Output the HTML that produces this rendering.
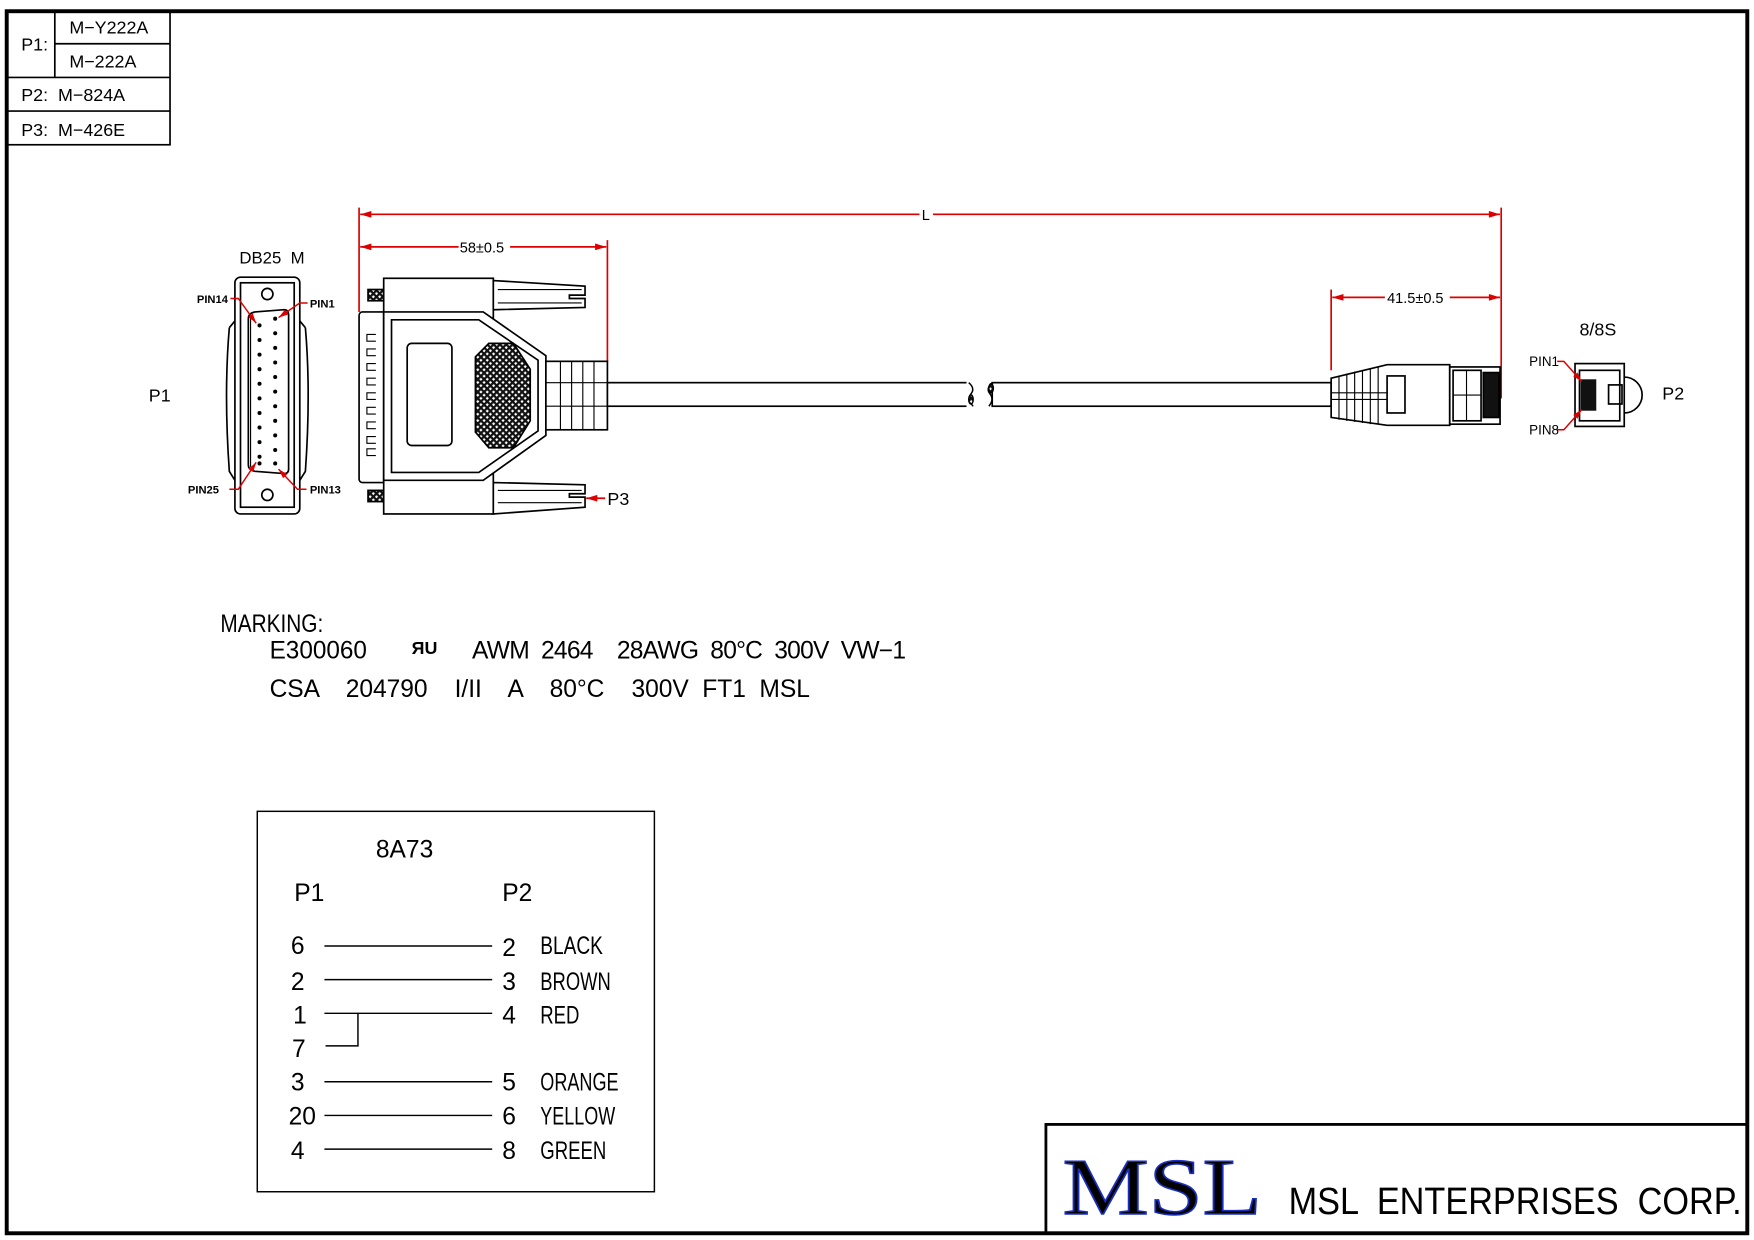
<!DOCTYPE html>
<html><head><meta charset="utf-8"><style>
html,body{margin:0;padding:0;background:#fff;}
svg{display:block;}
text{font-family:"Liberation Sans Narrow","Liberation Sans",sans-serif;fill:#000;white-space:pre;}
</style></head><body>
<svg width="1754" height="1240" viewBox="0 0 1568 1105" preserveAspectRatio="none" xmlns="http://www.w3.org/2000/svg" xml:space="preserve">
<defs>
<pattern id="hx" width="4" height="4" patternUnits="userSpaceOnUse" patternTransform="rotate(45)">
<rect width="4" height="4" fill="#fff"/><rect width="2" height="4" fill="#111"/><rect width="4" height="2" fill="#111"/></pattern>
<marker id="ar" viewBox="0 0 10 6" refX="10" refY="3" markerWidth="7" markerHeight="4" orient="auto-start-reverse"><path d="M0,0L10,3L0,6z" fill="#d00"/></marker>
</defs>
<rect x="6" y="10" width="1556" height="1089" fill="none" stroke="#000" stroke-width="3.5"/>
<g fill="none" stroke="#000" stroke-width="1.5">
<rect x="6" y="10" width="146" height="119"/>
<line x1="6" y1="69" x2="152" y2="69"/><line x1="6" y1="99" x2="152" y2="99"/>
<line x1="49" y1="39" x2="152" y2="39"/><line x1="49" y1="10" x2="49" y2="69"/>
</g>
<g font-size="16">
<text x="19" y="45">P1:</text><text x="62" y="30">M−Y222A</text><text x="62" y="60">M−222A</text>
<text x="19" y="90">P2:  M−824A</text><text x="19" y="121">P3:  M−426E</text>
</g>
<g stroke="#d00" stroke-width="1.5" fill="none">
<line x1="321" y1="185" x2="321" y2="278"/><line x1="1342" y1="185" x2="1342" y2="355"/>
<line x1="543" y1="214" x2="543" y2="322"/><line x1="1190" y1="258" x2="1190" y2="330"/>
<line x1="322" y1="191" x2="822" y2="191" marker-start="url(#ar)"/><line x1="834" y1="191" x2="1341" y2="191" marker-end="url(#ar)"/>
<line x1="322" y1="220" x2="410" y2="220" marker-start="url(#ar)"/><line x1="456" y1="220" x2="542" y2="220" marker-end="url(#ar)"/>
<line x1="1191" y1="265" x2="1238" y2="265" marker-start="url(#ar)"/><line x1="1296" y1="265" x2="1341" y2="265" marker-end="url(#ar)"/>
<line x1="541" y1="444" x2="524" y2="444" marker-end="url(#ar)"/>
</g>
<g font-size="13"><text x="824" y="196">L</text><text x="411" y="225">58±0.5</text><text x="1240" y="270">41.5±0.5</text></g>
<text x="543" y="450" font-size="16">P3</text>
<!-- DB25 face -->
<g fill="none" stroke="#000" stroke-width="1.5">
<rect x="210" y="247" width="58" height="211" rx="5"/>
<rect x="215" y="252" width="48" height="200"/>
<circle cx="239" cy="262" r="5"/><circle cx="239" cy="441" r="5"/>
<path d="M205,292 Q200,350 205,420 L210,428 M273,292 Q278,350 273,420 L268,428"/>
<path d="M205,292 L210,286 M273,292 L268,286"/>
<path d="M228,278 L254,276 Q258,276 258,281 L258,418 Q258,422 254,422 L228,420 Q222,419 222,414 L222,284 Q222,279 228,278Z"/>
<path d="M224,282 L224,416" stroke-width="1"/>
</g>
<g fill="#000">
<circle cx="232" cy="290" r="1.8"/><circle cx="232" cy="303" r="1.8"/><circle cx="232" cy="316" r="1.8"/><circle cx="232" cy="329" r="1.8"/><circle cx="232" cy="342" r="1.8"/><circle cx="232" cy="355" r="1.8"/><circle cx="232" cy="368" r="1.8"/><circle cx="232" cy="381" r="1.8"/><circle cx="232" cy="394" r="1.8"/><circle cx="232" cy="407" r="1.8"/>
<circle cx="246" cy="284" r="1.8"/><circle cx="246" cy="297" r="1.8"/><circle cx="246" cy="310" r="1.8"/><circle cx="246" cy="323" r="1.8"/><circle cx="246" cy="336" r="1.8"/><circle cx="246" cy="349" r="1.8"/><circle cx="246" cy="362" r="1.8"/><circle cx="246" cy="375" r="1.8"/><circle cx="246" cy="388" r="1.8"/><circle cx="246" cy="401" r="1.8"/><circle cx="246" cy="413" r="1.8"/><circle cx="232" cy="413" r="1.8"/>
</g>
<g stroke="#d00" stroke-width="1.3" fill="none">
<path d="M206,266 L213,266 L229,288" marker-end="url(#ar)"/><path d="M275,270 L268,270 L249,283" marker-end="url(#ar)"/>
<path d="M205,436 L213,436 L229,412" marker-end="url(#ar)"/><path d="M274,436 L266,436 L249,418" marker-end="url(#ar)"/>
</g>
<g font-size="10" font-weight="bold"><text x="176" y="270">PIN14</text><text x="277" y="274">PIN1</text><text x="168" y="440">PIN25</text><text x="277" y="440">PIN13</text></g>
<text x="214" y="235" font-size="15">DB25  M</text>
<text x="133" y="358" font-size="16">P1</text>
<!-- DB25 side view -->
<g fill="#fff" stroke="#000" stroke-width="1.5">
<rect x="321" y="278" width="24" height="152" rx="3"/>
<rect x="329" y="258" width="14" height="10" fill="url(#hx)"/><rect x="329" y="437" width="14" height="10" fill="url(#hx)"/>
<rect x="343" y="248" width="98" height="210"/>
<path d="M441,250 L523,255 L523,263 L509,263 L509,266 L523,266 L523,274 L441,276Z"/>
<path d="M441,430 L523,432 L523,440 L509,440 L509,443 L523,443 L523,452 L441,458Z"/>
<path d="M343,278 L432,278 L488,317 L488,388 L432,428 L343,428Z"/>
<path d="M350,285 L428,285 L481,321 L481,384 L428,421 L350,421Z"/>
<rect x="364" y="306" width="40" height="91" rx="4"/>
<path d="M437,306 L459,306 L474,329 L474,375 L459,399 L437,399 L425,385 L425,318Z" fill="url(#hx)"/>
<rect x="488" y="322" width="55" height="61"/>
<rect x="543" y="341" width="323" height="21"/>
<rect x="887" y="341" width="303" height="21"/>
</g>
<g stroke="#000" stroke-width="1" fill="none">
<path d="M501,322V383M511,322V383M521,322V383M531,322V383M488,341H543M488,362H543"/>
<path d="M445,258H520M445,270H520M445,437H520M445,448H520"/>
<path d="M336,298h-8v6h8M336,311h-8v6h8M336,324h-8v6h8M336,337h-8v6h8M336,350h-8v6h8M336,363h-8v6h8M336,376h-8v6h8M336,389h-8v6h8M336,400h-8v6h8"/>
</g>
<rect x="864" y="340" width="22" height="24" fill="#fff"/>
<g stroke="#000" stroke-width="1.3" fill="none">
<path d="M866,341 Q872,346 868,351 Q864,356 870,362"/><path d="M887,341 Q881,346 885,351 Q889,356 884,362"/>
<ellipse cx="868" cy="356" rx="2" ry="4" fill="url(#hx)"/><ellipse cx="886" cy="346" rx="2" ry="4" fill="url(#hx)"/>
</g>
<!-- RJ45 side -->
<g fill="#fff" stroke="#000" stroke-width="1.5">
<path d="M1190,337 L1240,325 L1296,325 L1296,379 L1240,379 L1190,372Z"/>
<rect x="1240" y="335" width="16" height="33"/>
<rect x="1296" y="327" width="45" height="51"/>
<rect x="1299" y="330" width="25" height="45"/>
<rect x="1326" y="332" width="14" height="40" fill="#111"/>
</g>
<g stroke="#000" stroke-width="1" fill="none">
<path d="M1197,335V374M1204,333V375M1211,331V376M1218,330V377M1225,328V378M1232,327V378M1190,350H1240M1190,356H1240M1311,330V375M1299,352H1324"/>
</g>
<!-- RJ face -->
<g fill="none" stroke="#000" stroke-width="1.5">
<rect x="1408" y="324" width="44" height="56"/>
<rect x="1412" y="330" width="36" height="45"/>
<path d="M1452,336 A15,15 0 0 1 1452,368"/>
<rect x="1438" y="343" width="12" height="17"/>
</g>
<rect x="1413" y="338" width="14" height="28" fill="#111"/>
<g stroke="#d00" stroke-width="1.3" fill="none">
<path d="M1392,322 L1398,322 L1414,340" marker-end="url(#ar)"/><path d="M1392,383 L1398,383 L1414,365" marker-end="url(#ar)"/>
</g>
<g font-size="12"><text x="1367" y="326">PIN1</text><text x="1367" y="387">PIN8</text></g>
<text x="1412" y="299" font-size="16">8/8S</text>
<text x="1486" y="356" font-size="16">P2</text>
<!-- marking -->
<g font-size="22">
<text x="197" y="563" textLength="92" lengthAdjust="spacingAndGlyphs">MARKING:</text>
<text x="241" y="587" textLength="87" lengthAdjust="spacingAndGlyphs">E300060</text><text x="368" y="583" font-size="16" font-weight="bold">ЯU</text>
<text x="422" y="587" textLength="388" lengthAdjust="spacing">AWM  2464    28AWG  80°C  300V  VW−1</text>
<text x="241" y="621" textLength="483" lengthAdjust="spacing">CSA    204790    I/II    A    80°C    300V  FT1  MSL</text>
</g>
<!-- wiring box -->
<rect x="230" y="723" width="355" height="339" fill="none" stroke="#000" stroke-width="1.3"/>
<g font-size="22">
<text x="336" y="764">8A73</text><text x="263" y="803">P1</text><text x="449" y="803">P2</text>
<text x="260" y="850">6</text><text x="260" y="882">2</text><text x="262" y="912">1</text><text x="261" y="942">7</text><text x="260" y="972">3</text><text x="258" y="1002">20</text><text x="260" y="1033">4</text>
<text x="449" y="852">2</text><text x="449" y="882">3</text><text x="449" y="912">4</text><text x="449" y="972">5</text><text x="449" y="1002">6</text><text x="449" y="1033">8</text>
<text x="483" y="850" textLength="56" lengthAdjust="spacingAndGlyphs">BLACK</text><text x="483" y="882" textLength="63" lengthAdjust="spacingAndGlyphs">BROWN</text><text x="483" y="912" textLength="35" lengthAdjust="spacingAndGlyphs">RED</text><text x="483" y="972" textLength="70" lengthAdjust="spacingAndGlyphs">ORANGE</text><text x="483" y="1002" textLength="67" lengthAdjust="spacingAndGlyphs">YELLOW</text><text x="483" y="1033" textLength="59" lengthAdjust="spacingAndGlyphs">GREEN</text>
</g>
<g stroke="#000" stroke-width="1.3" fill="none">
<path d="M290,843H440M290,873H440M290,903H440M290,964H440M290,994H440M290,1024H440M320,903V932H291"/>
</g>
<!-- title block -->
<rect x="935" y="1002" width="627" height="97" fill="none" stroke="#000" stroke-width="2.5"/>
<text x="950" y="1082" font-size="72" fill="#fff" stroke="#1a2fc0" stroke-width="1.4" textLength="178" lengthAdjust="spacingAndGlyphs" style="font-family:'Liberation Serif',serif">MSL</text>
<text x="1152" y="1082" font-size="34" textLength="405" lengthAdjust="spacingAndGlyphs">MSL  ENTERPRISES  CORP.</text>
</svg>
</body></html>
